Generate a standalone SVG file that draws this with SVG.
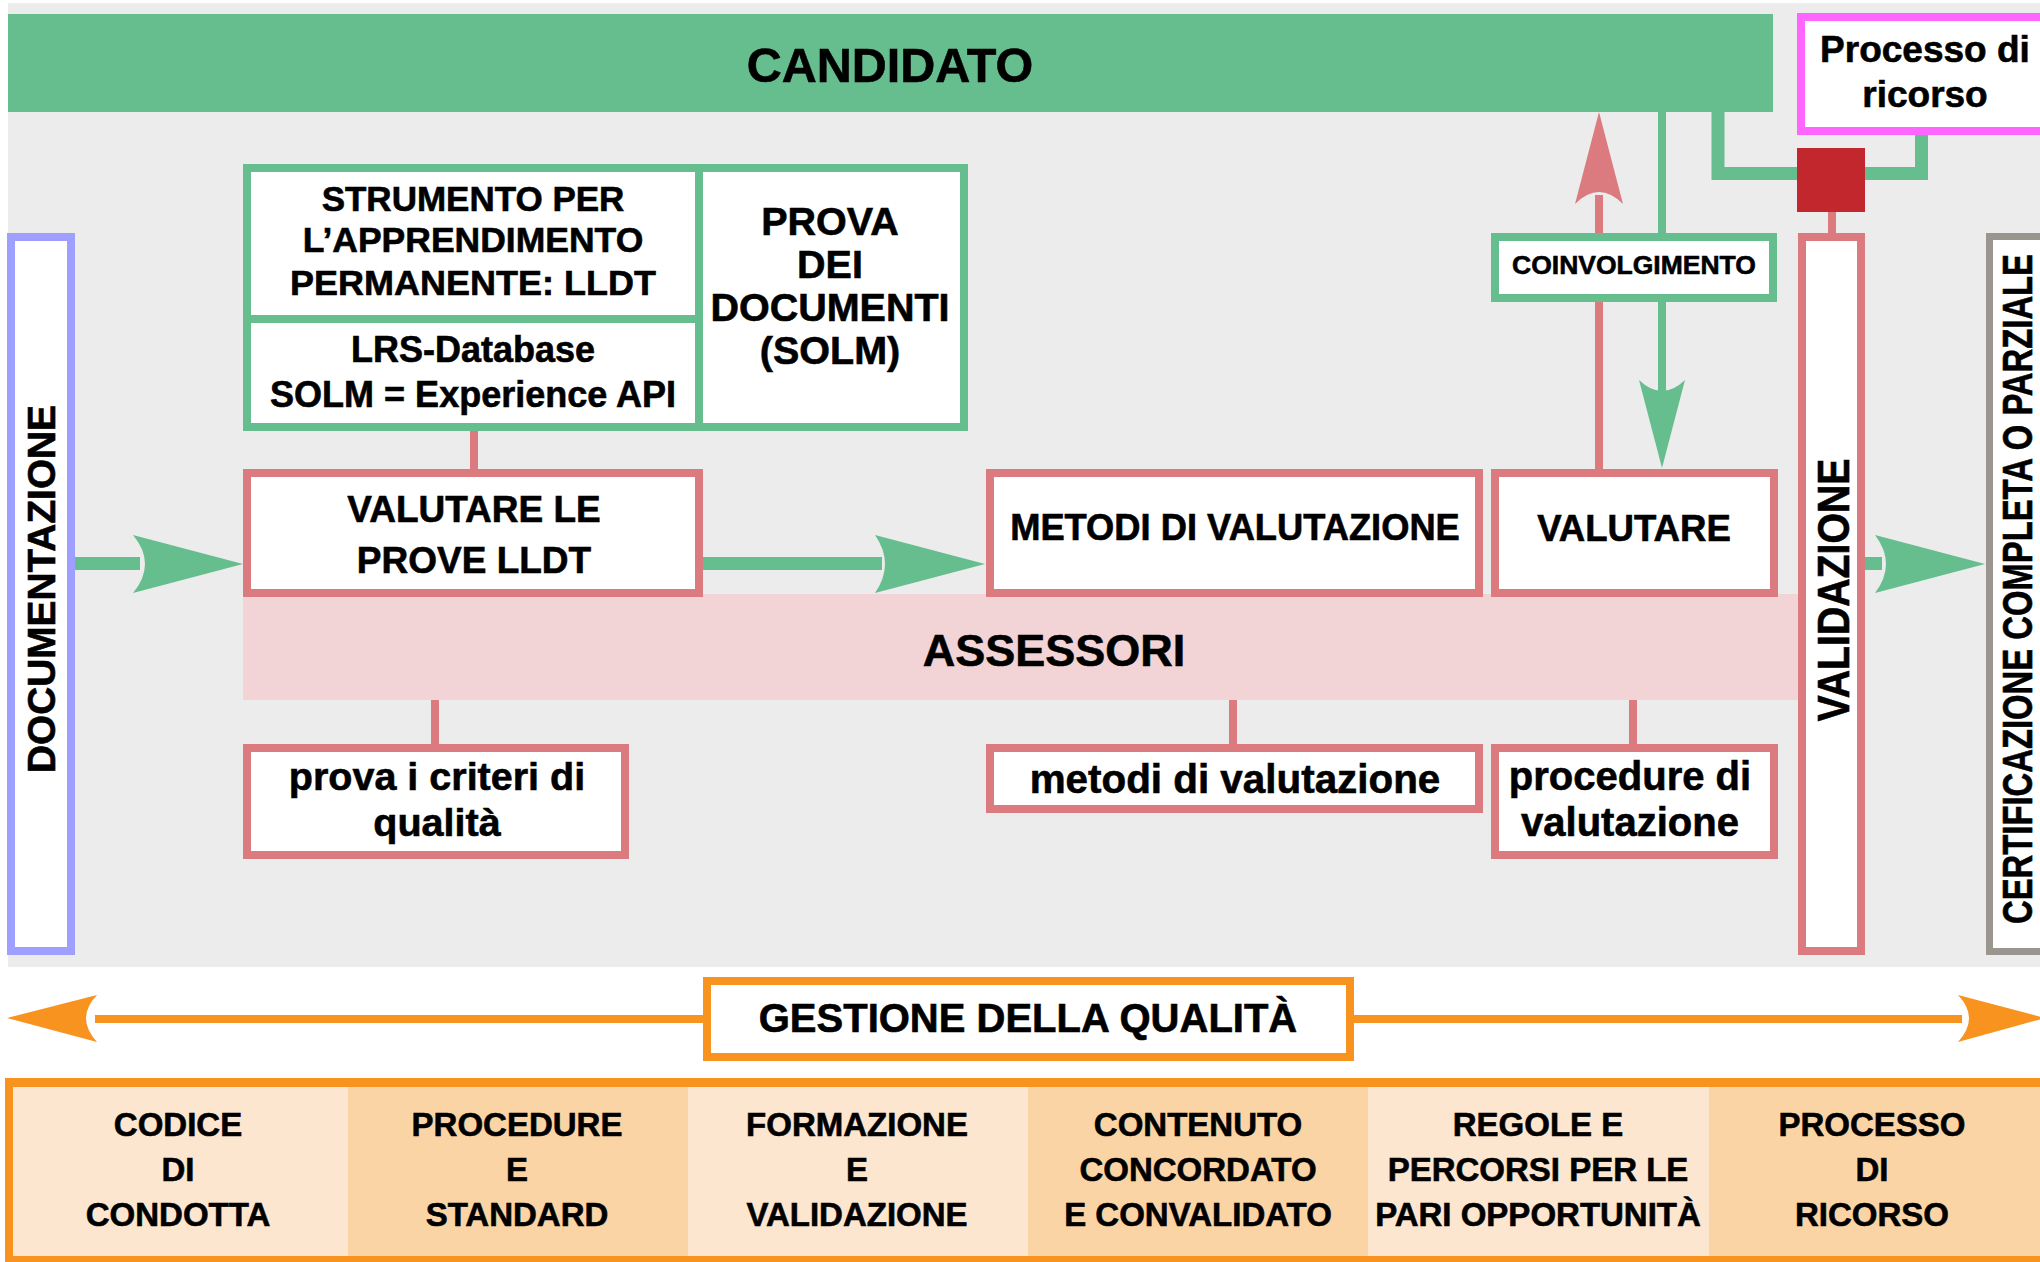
<svg xmlns="http://www.w3.org/2000/svg" width="2040" height="1262" viewBox="0 0 2040 1262">
<style>
.t{font-family:"Liberation Sans",Arial,sans-serif;font-weight:bold;fill:#000;stroke:#000;stroke-width:0.6;text-anchor:middle}
.pk{fill:#fff;stroke:#db7b80;stroke-width:8}
.gr{fill:#fff;stroke:#66be8f;stroke-width:8}
.pl{stroke:#db7b80;stroke-width:8;fill:none}
.gl{stroke:#66be8f;fill:none}
.ga{fill:#66be8f}
.pa{fill:#db7b80}
.oa{fill:#f7931e}
.ol{stroke:#f7931e;stroke-width:8}
.lc{fill:#fde6cf}
.dc{fill:#fbd4a6}
</style>
<rect x="0" y="0" width="2040" height="1262" fill="#fff"/>
<rect x="8" y="3" width="2032" height="964" fill="#ececec"/>

<g id="assessori">
<rect x="243" y="594" width="1555" height="106" fill="#f2d4d6"/>
<text class="t" x="1054" y="666" font-size="45">ASSESSORI</text>
</g>

<g id="connectors">
<line class="gl" x1="75" y1="563.5" x2="140" y2="563.5" stroke-width="13"/>
<path class="ga" d="M243,564 L133,535 Q157,564 133,593 Z"/>
<line class="gl" x1="703" y1="563.5" x2="882" y2="563.5" stroke-width="13"/>
<path class="ga" d="M985,564 L875,535 Q895,564 875,593 Z"/>
<line class="gl" x1="1865" y1="563.5" x2="1882" y2="563.5" stroke-width="13"/>
<path class="ga" d="M1985,564 L1875,535 Q1897,564 1875,593 Z"/>
<line class="pl" x1="1599" y1="469" x2="1599" y2="195"/>
<path class="pa" d="M1599,112 L1575,204 Q1599,180 1623,204 Z"/>
<line class="gl" x1="1662" y1="112" x2="1662" y2="395" stroke-width="8"/>
<path class="ga" d="M1662,468 L1639,380 Q1662,402 1685,380 Z"/>
<polyline class="gl" points="1718,112 1718,173.5 1921.5,173.5 1921.5,135" stroke-width="13"/>
<line class="pl" x1="474" y1="431" x2="474" y2="469"/>
<line class="pl" x1="435" y1="700" x2="435" y2="744"/>
<line class="pl" x1="1233" y1="700" x2="1233" y2="744"/>
<line class="pl" x1="1633" y1="700" x2="1633" y2="744"/>
<line class="pl" x1="1832" y1="212" x2="1832" y2="233" stroke-width="12"/>
<line class="ol" x1="95" y1="1019" x2="703" y2="1019"/>
<path class="oa" d="M7,1018 L97,995 Q75,1018 97,1042 Z"/>
<line class="ol" x1="1354" y1="1019" x2="1962" y2="1019"/>
<path class="oa" d="M2045,1018 L1958,995 Q1980,1018 1958,1042 Z"/>
</g>

<g id="candidato">
<rect x="8" y="14" width="1765" height="98" fill="#66be8f"/>
<text class="t" x="890" y="82" font-size="48.5">CANDIDATO</text>
</g>

<g id="processo-ricorso">
<rect x="1801" y="17" width="248" height="114" fill="#fff" stroke="#ff66ff" stroke-width="8"/>
<text class="t" x="1925" y="62" font-size="37">Processo di</text>
<text class="t" x="1925" y="107" font-size="37">ricorso</text>
</g>

<g id="junction">
<rect x="1797" y="148" width="68" height="64" fill="#c1272d"/>
</g>

<g id="strumento">
<rect x="243" y="164" width="725" height="267" fill="#66be8f"/>
<rect x="251" y="172" width="444" height="143" fill="#fff"/>
<rect x="251" y="323" width="444" height="100" fill="#fff"/>
<rect x="703" y="172" width="257" height="251" fill="#fff"/>
<text class="t" x="473" y="211" font-size="35">STRUMENTO PER</text>
<text class="t" x="473" y="252" font-size="35.5">L’APPRENDIMENTO</text>
<text class="t" x="473" y="295" font-size="35.5" textLength="366" lengthAdjust="spacingAndGlyphs">PERMANENTE: LLDT</text>
<text class="t" x="473" y="362" font-size="36">LRS-Database</text>
<text class="t" x="473" y="407" font-size="36">SOLM = Experience API</text>
<text class="t" x="830" y="235" font-size="39.5">PROVA</text>
<text class="t" x="830" y="278" font-size="39.5">DEI</text>
<text class="t" x="830" y="321" font-size="39.5">DOCUMENTI</text>
<text class="t" x="830" y="364" font-size="39.5">(SOLM)</text>
</g>

<g id="coinvolgimento">
<rect class="gr" x="1495" y="237" width="278" height="61"/>
<text class="t" x="1634" y="274" font-size="26.5">COINVOLGIMENTO</text>
</g>

<g id="documentazione">
<rect x="11" y="237" width="60" height="714" fill="#fff" stroke="#9f9fff" stroke-width="8"/>
<text class="t" transform="translate(55,589) rotate(-90)" font-size="39" textLength="368" lengthAdjust="spacingAndGlyphs">DOCUMENTAZIONE</text>
</g>

<g id="valutare-lldt">
<rect class="pk" x="247" y="473" width="452" height="120"/>
<text class="t" x="474" y="522" font-size="37">VALUTARE LE</text>
<text class="t" x="474" y="573" font-size="37">PROVE LLDT</text>
</g>

<g id="metodi">
<rect class="pk" x="990" y="473" width="489" height="120"/>
<text class="t" x="1235" y="540" font-size="36.3">METODI DI VALUTAZIONE</text>
</g>

<g id="valutare">
<rect class="pk" x="1495" y="473" width="279" height="120"/>
<text class="t" x="1634" y="541" font-size="36.6">VALUTARE</text>
</g>

<g id="prova-criteri">
<rect class="pk" x="247" y="748" width="378" height="107"/>
<text class="t" x="437" y="790" font-size="39.5">prova i criteri di</text>
<text class="t" x="437" y="836" font-size="39.5">qualità</text>
</g>

<g id="metodi-lower">
<rect class="pk" x="990" y="748" width="489" height="61"/>
<text class="t" x="1235" y="793" font-size="40.4">metodi di valutazione</text>
</g>

<g id="procedure">
<rect class="pk" x="1495" y="748" width="279" height="107"/>
<text class="t" x="1630" y="790" font-size="40">procedure di</text>
<text class="t" x="1630" y="836" font-size="40">valutazione</text>
</g>

<g id="validazione">
<rect class="pk" x="1802" y="237" width="59" height="714"/>
<text class="t" transform="translate(1849,590) rotate(-90)" font-size="45" textLength="263" lengthAdjust="spacingAndGlyphs">VALIDAZIONE</text>
</g>

<g id="certificazione">
<rect x="1989.5" y="236.5" width="60" height="715" fill="#fff" stroke="#9b9590" stroke-width="7"/>
<text class="t" transform="translate(2032,589) rotate(-90)" font-size="43" textLength="670" lengthAdjust="spacingAndGlyphs">CERTIFICAZIONE COMPLETA O PARZIALE</text>
</g>

<g id="gestione">
<rect x="707" y="981" width="643" height="76" fill="#fff" stroke="#f7931e" stroke-width="8"/>
<text class="t" x="1028" y="1032" font-size="40">GESTIONE DELLA QUALITÀ</text>
</g>

<g id="quality-panel">
<rect x="5" y="1078" width="2050" height="190" fill="#f7931e"/>
<rect class="lc" x="13" y="1087" width="335" height="169"/>
<rect class="dc" x="348" y="1087" width="340" height="169"/>
<rect class="lc" x="688" y="1087" width="340" height="169"/>
<rect class="dc" x="1028" y="1087" width="340" height="169"/>
<rect class="lc" x="1368" y="1087" width="341" height="169"/>
<rect class="dc" x="1709" y="1087" width="340" height="169"/>
<g font-size="33">
<text class="t" x="178" y="1136">CODICE</text>
<text class="t" x="178" y="1181">DI</text>
<text class="t" x="178" y="1226">CONDOTTA</text>
<text class="t" x="517" y="1136">PROCEDURE</text>
<text class="t" x="517" y="1181">E</text>
<text class="t" x="517" y="1226">STANDARD</text>
<text class="t" x="857" y="1136">FORMAZIONE</text>
<text class="t" x="857" y="1181">E</text>
<text class="t" x="857" y="1226">VALIDAZIONE</text>
<text class="t" x="1198" y="1136">CONTENUTO</text>
<text class="t" x="1198" y="1181">CONCORDATO</text>
<text class="t" x="1198" y="1226">E CONVALIDATO</text>
<text class="t" x="1538" y="1136">REGOLE E</text>
<text class="t" x="1538" y="1181">PERCORSI PER LE</text>
<text class="t" x="1538" y="1226">PARI OPPORTUNITÀ</text>
<text class="t" x="1872" y="1136">PROCESSO</text>
<text class="t" x="1872" y="1181">DI</text>
<text class="t" x="1872" y="1226">RICORSO</text>
</g>
</g>
</svg>
